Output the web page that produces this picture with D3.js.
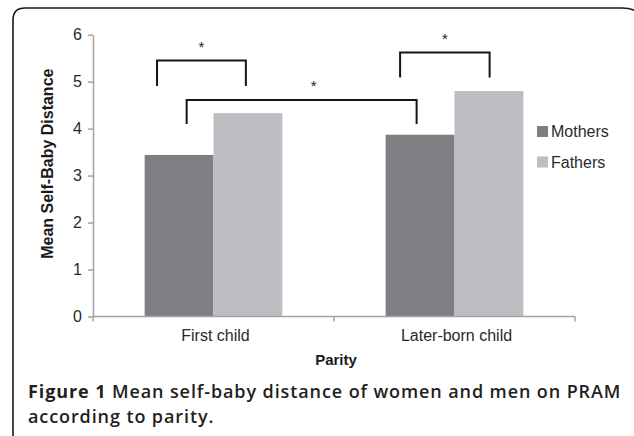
<!DOCTYPE html>
<html>
<head>
<meta charset="utf-8">
<script src="https://cdn.jsdelivr.net/npm/d3@7"></script>
<style>
  body { margin: 0; background: #fff; }
  svg { display: block; }
</style>
</head>
<body>
<svg id="chart" width="634" height="436"></svg>
<script>
const categories = ['First child', 'Later-born child'];
const seriesNames = ['Mothers', 'Fathers'];
const mothers = [3.44, 3.87];
const fathers = [4.33, 4.80];
const yTicks = [0, 1, 2, 3, 4, 5, 6];
const colors = ['#7e7f83', '#bdbec2'];

// significance brackets: [category, series] ends, top and leg levels in axis units
const brackets = [
  {from: [0, 0], to: [0, 1], top: 5.45, leg: 4.91, label: '*'},
  {from: [0, 0], to: [1, 0], top: 4.61, leg: 4.10, label: '*'},
  {from: [1, 0], to: [1, 1], top: 5.62, leg: 5.09, label: '*'}
];

const svg = d3.select('svg#chart');
const margin = {top: 34.7, right: 59, bottom: 119.5, left: 93};
const width = +svg.attr('width') - margin.left - margin.right;
const height = +svg.attr('height') - margin.top - margin.bottom;

// frame
svg.append('path')
  .attr('d', 'M13,436 L13,20 Q13,8 25,8 L622,8 Q634,8 640,14')
  .attr('fill', 'none')
  .attr('stroke', '#1a1a1a')
  .attr('stroke-width', 1.6);

const g = svg.append('g').attr('transform', `translate(${margin.left},${margin.top})`);

const x0 = d3.scaleBand().domain(d3.range(categories.length)).range([0, width]);
const x1 = d3.scaleBand().domain(d3.range(seriesNames.length))
  .range([0, x0.bandwidth()]).paddingInner(0).paddingOuter(0.75);
const y = d3.scaleLinear().domain([0, 6]).range([height, 0]);

const values = [mothers, fathers];

// bars
categories.forEach((c, ci) => {
  g.selectAll(null)
    .data(seriesNames)
    .join('rect')
    .attr('x', (d, si) => x0(ci) + x1(si))
    .attr('y', (d, si) => y(values[si][ci]))
    .attr('width', x1.bandwidth())
    .attr('height', (d, si) => height - y(values[si][ci]))
    .attr('fill', (d, si) => colors[si]);
});

const axisColor = '#a3a3a3';

// y axis
const yAxis = g.append('g')
  .call(d3.axisLeft(y).tickValues(yTicks).tickFormat(d3.format('d'))
    .tickSize(5).tickPadding(6).tickSizeOuter(0));
yAxis.select('.domain').attr('stroke', axisColor).attr('stroke-width', 1.5);
yAxis.selectAll('.tick line').attr('stroke', axisColor).attr('stroke-width', 1.5);
yAxis.selectAll('.tick text')
  .attr('fill', '#2a2a2a')
  .style('font-family', 'Liberation Sans, Arial, sans-serif')
  .style('font-size', '16px');

// x axis
const xAxisG = g.append('g').attr('transform', `translate(0,${height})`);
xAxisG.append('line')
  .attr('x1', 0).attr('x2', width)
  .attr('stroke', axisColor).attr('stroke-width', 1.5);
xAxisG.selectAll('line.tk')
  .data(d3.range(categories.length + 1))
  .join('line')
  .attr('class', 'tk')
  .attr('x1', d => d * x0.step()).attr('x2', d => d * x0.step())
  .attr('y1', 0).attr('y2', 5)
  .attr('stroke', axisColor).attr('stroke-width', 1.5);
xAxisG.selectAll('text')
  .data(categories)
  .join('text')
  .attr('x', (d, i) => x0(i) + x0.bandwidth() / 2 + 2)
  .attr('y', 24)
  .attr('text-anchor', 'middle')
  .attr('fill', '#2a2a2a')
  .style('font-family', 'Liberation Sans, Arial, sans-serif')
  .style('font-size', '16px')
  .text(d => d);

// axis titles
g.append('text')
  .attr('transform', `translate(${-40},${163.7 - margin.top}) rotate(-90)`)
  .attr('text-anchor', 'middle')
  .attr('fill', '#1a1a1a')
  .style('font-family', 'Liberation Sans, Arial, sans-serif')
  .style('font-size', '16px')
  .style('font-weight', 'bold')
  .text('Mean Self-Baby Distance');

g.append('text')
  .attr('x', width / 2 + 2)
  .attr('y', height + 49)
  .attr('text-anchor', 'middle')
  .attr('fill', '#1a1a1a')
  .style('font-family', 'Liberation Sans, Arial, sans-serif')
  .style('font-size', '15px')
  .style('font-weight', 'bold')
  .text('Parity');

// brackets: where each leg sits across its bar (fraction of bar width)
const bracketFrac = [[0.18, 0.47], [0.61, 0.45], [0.21, 0.51]];
const starShift = [0, 12, 0];
brackets.forEach((b, i) => {
  const xa = x0(b.from[0]) + x1(b.from[1]) + x1.bandwidth() * bracketFrac[i][0];
  const xb = x0(b.to[0]) + x1(b.to[1]) + x1.bandwidth() * bracketFrac[i][1];
  g.append('path')
    .attr('d', `M${xa},${y(b.leg)} L${xa},${y(b.top)} L${xb},${y(b.top)} L${xb},${y(b.leg)}`)
    .attr('fill', 'none')
    .attr('stroke', '#151515')
    .attr('stroke-width', 2);
  g.append('text')
    .attr('x', (xa + xb) / 2 + starShift[i])
    .attr('y', y(b.top) - 9)
    .attr('text-anchor', 'middle')
    .attr('fill', '#222')
    .style('font-family', 'Liberation Sans, Arial, sans-serif')
    .style('font-size', '15px')
    .text(b.label);
});

// legend
const legend = svg.append('g').attr('transform', 'translate(537,126)');
seriesNames.forEach((s, i) => {
  legend.append('rect')
    .attr('x', 0).attr('y', i * 30.5)
    .attr('width', 11).attr('height', 11)
    .attr('fill', colors[i]);
  legend.append('text')
    .attr('x', 14).attr('y', i * 30.5 + 11)
    .attr('fill', '#2a2a2a')
    .style('font-family', 'Liberation Sans, Arial, sans-serif')
    .style('font-size', '16px')
    .text(s);
});

// caption
const cap = svg.append('g')
  .style('font-family', 'Open Sans, Noto Sans, sans-serif')
  .style('font-size', '18px')
  .style('letter-spacing', '0.9px')
  .attr('fill', '#231f20');
const line1 = cap.append('text').attr('x', 28).attr('y', 398);
line1.append('tspan').style('font-weight', 'bold').text('Figure 1');
line1.append('tspan').style('font-weight', '600').text(' Mean self-baby distance of women and men on PRAM');
cap.append('text').attr('x', 28).attr('y', 423)
  .style('font-weight', '600')
  .text('according to parity.');
</script>
</body>
</html>
